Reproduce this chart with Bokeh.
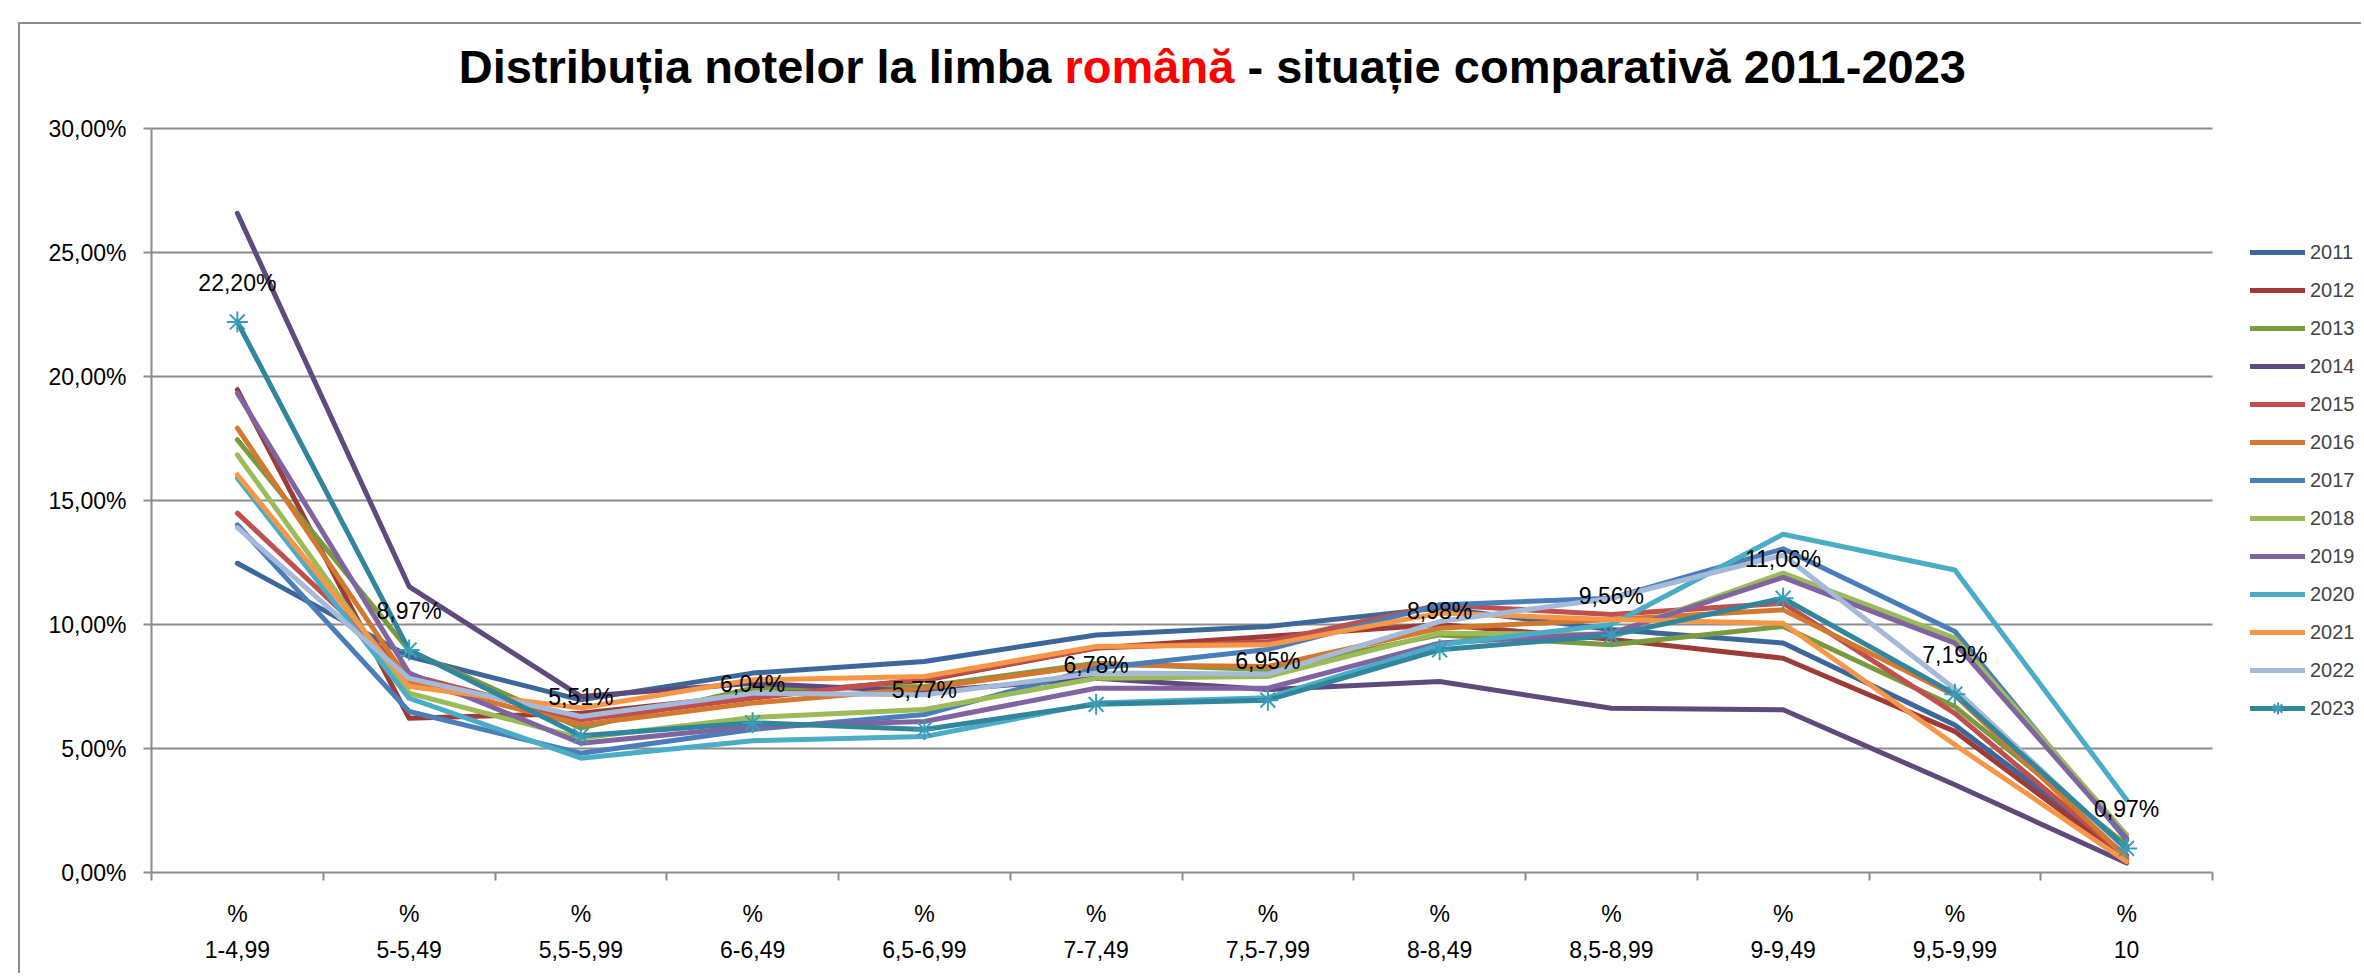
from bokeh.plotting import figure
from bokeh.models import Range1d, FixedTicker, CustomJSTickFormatter, Legend, LegendItem
from bokeh.layouts import column
from bokeh.embed import file_html
from bokeh.resources import INLINE
from bokeh.core.properties import value

categories = ["1-4,99", "5-5,49", "5,5-5,99", "6-6,49", "6,5-6,99", "7-7,49",
              "7,5-7,99", "8-8,49", "8,5-8,99", "9-9,49", "9,5-9,99", "10"]
years = ["2011", "2012", "2013", "2014", "2015", "2016", "2017",
         "2018", "2019", "2020", "2021", "2022", "2023"]

v2011 = [12.47, 8.71, 6.96, 8.04, 8.51, 9.58, 9.92, 10.66, 9.80, 9.25, 5.95, 0.70]
v2012 = [19.47, 6.22, 6.42, 7.15, 7.75, 9.05, 9.52, 10.00, 9.40, 8.64, 5.69, 0.50]
v2013 = [17.45, 8.95, 5.82, 7.43, 7.50, 8.44, 8.18, 9.58, 9.18, 9.92, 6.69, 1.10]
v2014 = [26.58, 11.53, 7.10, 7.63, 7.30, 7.83, 7.38, 7.70, 6.62, 6.56, 3.54, 0.38]
v2015 = [14.49, 7.97, 6.16, 7.03, 7.80, 9.05, 9.30, 10.79, 10.40, 10.86, 6.42, 0.60]
v2016 = [17.92, 7.70, 5.96, 6.83, 7.43, 8.38, 8.31, 9.85, 10.20, 10.59, 7.15, 0.60]
v2017 = [14.02, 6.49, 4.81, 5.77, 6.37, 8.24, 8.99, 10.79, 11.06, 13.05, 9.72, 1.30]
v2018 = [16.84, 7.23, 5.42, 6.25, 6.57, 7.83, 7.90, 9.65, 9.60, 12.07, 9.45, 1.52]
v2019 = [19.33, 8.04, 5.21, 5.89, 6.09, 7.43, 7.43, 9.25, 9.65, 11.90, 9.25, 1.38]
v2020 = [15.90, 7.03, 4.61, 5.31, 5.48, 6.83, 7.05, 9.18, 10.00, 13.64, 12.20, 2.93]
v2021 = [16.04, 7.50, 6.63, 7.77, 7.90, 9.11, 9.18, 10.46, 10.20, 10.05, 5.15, 0.44]
v2022 = [13.91, 7.83, 6.29, 7.23, 7.17, 8.04, 8.00, 10.12, 11.06, 12.80, 7.40, 0.90]
v2023 = [22.20, 8.97, 5.51, 6.04, 5.77, 6.78, 6.95, 8.98, 9.56, 11.06, 7.19, 0.97]

series = [v2011, v2012, v2013, v2014, v2015, v2016, v2017,
          v2018, v2019, v2020, v2021, v2022, v2023]
colors = ["#3C679A", "#9E3B38", "#7A9A3F", "#5F4A7E", "#C0504D", "#D3782F", "#4A7EBB",
          "#9BBB59", "#8064A2", "#4BACC6", "#F79646", "#A5B9D9", "#31859C"]

y_ticks = [0, 5, 10, 15, 20, 25, 30]
Y_MAX = 30

title_parts = ["Distribuția notelor la limba", "română", "- situație comparativă 2011-2023"]
title_colors = ["black", "#FF0000", "black"]

FONT = "Liberation Sans"
GREY = "#8c8c8c"

# ---- layout constants (page pixels) ----
ORIGIN = -1            # where the canvas actually lands on the page (measured)
FRAME_LEFT, FRAME_RIGHT = 150, 2360
FRAME_TOP, AXIS_Y, CAT_RIGHT = ORIGIN, 871, 2211
Y30 = 127
W = FRAME_RIGHT - ORIGIN
H = 972 - ORIGIN
n = len(categories)
px_per_cat = (CAT_RIGHT - FRAME_LEFT) / n
px_per_unit = (AXIS_Y - Y30) / Y_MAX
x_end = 0.5 + (FRAME_RIGHT - FRAME_LEFT) / px_per_cat
y_end = (AXIS_Y - FRAME_TOP) / px_per_unit


def px_to_x(px):
    return 0.5 + (px - FRAME_LEFT) / px_per_cat


def py_to_y(py):
    return (AXIS_Y - py) / px_per_unit


p = figure(width=W, height=H, x_range=Range1d(0.5, x_end), y_range=Range1d(0, y_end),
           toolbar_location=None, output_backend="svg",
           min_border_left=FRAME_LEFT - ORIGIN, min_border_right=ORIGIN + W - FRAME_RIGHT,
           min_border_top=FRAME_TOP - ORIGIN, min_border_bottom=ORIGIN + H - AXIS_Y,
           outline_line_color=None)
p.background_fill_alpha = 0
p.border_fill_alpha = 0

# ---- title (multi-coloured, as text) ----
title_y = py_to_y(65)
common = dict(text_baseline="middle", text_font=value(FONT), text_font_style="bold",
              text_font_size="47px")
p.text(x=[px_to_x(1050)], y=[title_y], text=[title_parts[0]], text_align="right",
       text_color=title_colors[0], **common)
p.text(x=[px_to_x(1063)], y=[title_y], text=[title_parts[1]], text_align="left",
       text_color=title_colors[1], **common)
p.text(x=[px_to_x(1246)], y=[title_y], text=[title_parts[2]], text_align="left",
       text_color=title_colors[2], **common)

# ---- axes ----
x = list(range(1, n + 1))
p.xaxis.ticker = FixedTicker(ticks=x, minor_ticks=[i + 0.5 for i in range(0, n + 1)])
p.xaxis.bounds = (0.5, n + 0.5)
p.xaxis.major_label_overrides = {i: "%\n" + c for i, c in zip(x, categories)}
p.xaxis.major_tick_line_color = None
p.xaxis.major_tick_out = 8
p.xaxis.major_tick_in = 0
p.xaxis.minor_tick_out = 8
p.xaxis.minor_tick_in = 0
p.xaxis.minor_tick_line_color = GREY
p.xaxis.minor_tick_line_width = 2
p.xaxis.major_label_standoff = 20
p.xaxis.major_label_text_line_height = 1.4

yt = FixedTicker(ticks=y_ticks, minor_ticks=[])
p.yaxis.ticker = yt
p.yaxis.bounds = (0, Y_MAX)
p.yaxis.formatter = CustomJSTickFormatter(code="return tick.toFixed(2).replace('.', ',') + '%';")
p.yaxis.major_tick_out = 8
p.yaxis.major_tick_in = 0
p.yaxis.major_tick_line_color = GREY
p.yaxis.major_tick_line_width = 2
p.yaxis.minor_tick_line_color = None
p.yaxis.major_label_standoff = 17

for ax in (p.xaxis, p.yaxis):
    ax.axis_line_color = GREY
    ax.axis_line_width = 2
    ax.major_label_text_font = FONT
    ax.major_label_text_font_size = "23px"
    ax.major_label_text_color = "black"

p.xgrid.visible = False
g = p.ygrid[0]
g.ticker = yt
g.grid_line_color = GREY
g.grid_line_width = 2
if "cross_bounds" in g.properties():
    g.cross_bounds = (0.5, n + 0.5)
else:
    g.visible = False
    p.segment(x0=[0.5] * len(y_ticks), y0=y_ticks, x1=[n + 0.5] * len(y_ticks), y1=y_ticks,
              line_color=GREY, line_width=2)

# ---- series ----
items = []
for yr, vals, col in zip(years, series, colors):
    r = p.line(x, vals, line_color=col, line_width=5, line_cap="round", line_join="round")
    rs = [r]
    if yr == "2023":
        s = p.scatter(x, vals, marker="asterisk", size=21, line_color="#3A9DB8", line_width=2)
        rs.append(s)
    items.append(LegendItem(label=yr, renderers=rs))

labels = [f"{v:.2f}".replace(".", ",") + "%" for v in v2023]
p.text(x, v2023, text=labels, text_align="center", text_baseline="middle", y_offset=-39,
       text_font=value(FONT), text_font_size="23px", text_color="black")

legend = Legend(items=items, location=(2249 - FRAME_LEFT, AXIS_Y - 722), glyph_width=55,
                glyph_height=30, label_height=30, spacing=8, label_standoff=5, padding=10,
                margin=0, border_line_color=None, background_fill_alpha=0,
                label_text_font=FONT, label_text_font_size="20px")
p.add_layout(legend)

# chart-area border (top and left grey lines) painted behind the transparent canvas
bg = ("linear-gradient(#8c8c8c, #8c8c8c) 18px 22px / 100% 2px no-repeat, "
      "linear-gradient(#8c8c8c, #8c8c8c) 18px 22px / 2px 100% no-repeat, #ffffff")
layout = column(p, styles={"background": bg})

with open("out.html", "w", encoding="utf-8") as f:
    f.write(file_html(layout, INLINE))
